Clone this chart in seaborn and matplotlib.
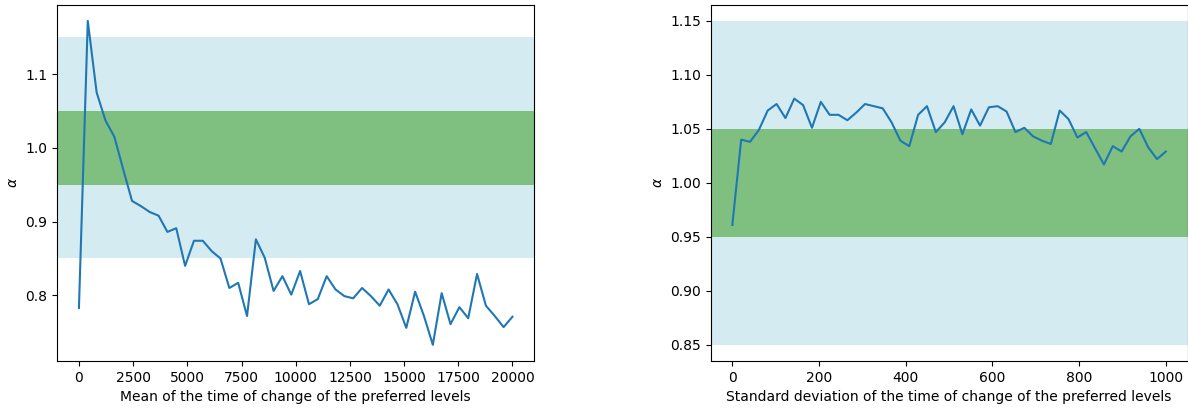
import numpy as np
import pandas as pd
import matplotlib
matplotlib.use("Agg")
import matplotlib.pyplot as plt
import seaborn as sns

# Mean of the time of change of the preferred levels (50 runs)
mean_times = np.linspace(0, 20000, 50)
alpha_mean = [
    0.783, 1.172, 1.075, 1.037, 1.015, 0.971, 0.928, 0.921, 0.913, 0.908,
    0.886, 0.891, 0.840, 0.874, 0.874, 0.860, 0.850, 0.810, 0.817, 0.772,
    0.876, 0.851, 0.806, 0.826, 0.801, 0.833, 0.788, 0.795, 0.826, 0.808,
    0.799, 0.796, 0.810, 0.799, 0.786, 0.808, 0.788, 0.756, 0.805, 0.772,
    0.733, 0.803, 0.761, 0.784, 0.769, 0.829, 0.786, 0.772, 0.757, 0.771,
]

# Standard deviation of the time of change of the preferred levels (50 runs)
std_times = np.linspace(0, 1000, 50)
alpha_std = [
    0.961, 1.040, 1.038, 1.049, 1.067, 1.073, 1.060, 1.078, 1.072, 1.051,
    1.075, 1.063, 1.063, 1.058, 1.065, 1.073, 1.071, 1.069, 1.056, 1.039,
    1.034, 1.063, 1.071, 1.047, 1.056, 1.071, 1.045, 1.068, 1.053, 1.070,
    1.071, 1.066, 1.047, 1.051, 1.043, 1.039, 1.036, 1.067, 1.059, 1.042,
    1.047, 1.032, 1.017, 1.034, 1.029, 1.043, 1.050, 1.033, 1.022, 1.029,
]

df_mean = pd.DataFrame({"x": mean_times, "alpha": alpha_mean})
df_std = pd.DataFrame({"x": std_times, "alpha": alpha_std})

fig = plt.figure(figsize=(11.88, 4.08), dpi=100)
ax1 = fig.add_axes([0.0482, 0.1152, 0.4014, 0.8733])
ax2 = fig.add_axes([0.5982, 0.1152, 0.4014, 0.8733])


def shade(ax):
    # tolerance bands around alpha = 1
    ax.axhspan(0.85, 0.95, color="lightblue", alpha=0.5, lw=0)
    ax.axhspan(1.05, 1.15, color="lightblue", alpha=0.5, lw=0)
    ax.axhspan(0.95, 1.05, color="green", alpha=0.5, lw=0)


shade(ax1)
sns.lineplot(data=df_mean, x="x", y="alpha", ax=ax1, color="#1f77b4", linewidth=1.5)
ax1.set_xlabel("Mean of the time of change of the preferred levels")
ax1.set_ylabel(r"$\alpha$")

shade(ax2)
sns.lineplot(data=df_std, x="x", y="alpha", ax=ax2, color="#1f77b4", linewidth=1.5)
ax2.set_xlabel("Standard deviation of the time of change of the preferred levels")
ax2.set_ylabel(r"$\alpha$")

fig.savefig("out.png", dpi=100)
